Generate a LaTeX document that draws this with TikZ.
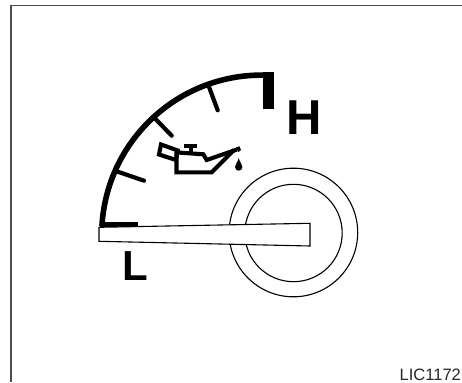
\documentclass[tikz,border=0pt]{standalone}
\usepackage{fontspec}
\setmainfont{Liberation Sans}
\tikzset{
  x=1pt,y=-1pt,
  frameline/.style={draw=black!70,line width=1.1pt},
  scale arc/.style={line width=5.6pt},
  tickline/.style={line width=4.2pt,line cap=round},
  canline/.style={line width=4.1pt,line join=miter},
  ringline/.style={line width=1.1pt,draw=black},
  bigletter/.style={inner sep=0pt,anchor=base west},
}
\begin{document}
\begin{tikzpicture}
\useasboundingbox (0,0) rectangle (462,382);
\draw[frameline] (11,382) -- (11,5.5) -- (462,5.5);
% rings
\draw[ringline] (293.4,232.5) circle[radius=64.3];
\draw[ringline] (293.5,233) circle[radius=48.7];
% scale
\draw[scale arc] (102,226) -- (102.2,222) arc[start angle=184.7,end angle=270,radius=160] -- (264,75);
\fill (99.5,221.5) rectangle (137.7,226.5);
\fill (262.7,72.2) -- (274,72.2) -- (274,109) -- (262.7,109) -- cycle;
\draw[tickline] (115.7,171) -- (144,180.7);
\draw[tickline] (153.3,116.7) -- (171.7,135.7);
\draw[tickline] (208.3,85) -- (217.7,110.3);
% oil can
\draw[canline] (161,144.5) -- (159,154.5) -- (176,160) -- (177.7,150.5) -- cycle;
\draw[canline] (177.7,152.5) -- (203.3,154.3) -- (206.7,160) -- (237,149.5);
\draw[canline] (176.5,152) -- (176.5,172.3) -- (211.7,172.3) -- (234,150);
\draw[line width=3.8pt] (190.7,146) -- (190.7,153);
\draw[line width=4.2pt] (184,145.7) -- (196.7,145.7);
\fill (236,147.5) -- (239.5,146.3) -- (241,150) -- (238.5,152) -- cycle;
\fill (238.7,158) .. controls (238,162) and (235,164) .. (235,167) arc[start angle=180,end angle=0,radius=3.7] .. controls (242.4,164) and (239.4,162) .. (238.7,158) -- cycle;
% pointer
\draw[fill=white,line width=1.1pt,draw=black] (99,227.3) -- (310,223.3) -- (310,246) -- (99,241.3) -- cycle;
% labels
\node[bigletter,font=\fontsize{49}{49}\selectfont\bfseries] (hi) at (286,135) {H};
\node[bigletter,font=\fontsize{42}{42}\selectfont\bfseries] (lo) at (122,280) {L};
\node[inner sep=0pt,anchor=base west,font=\fontsize{16.5}{16.5}\selectfont,text=black!85] (code) at (399.5,380) {LIC1172};
\end{tikzpicture}
\end{document}
